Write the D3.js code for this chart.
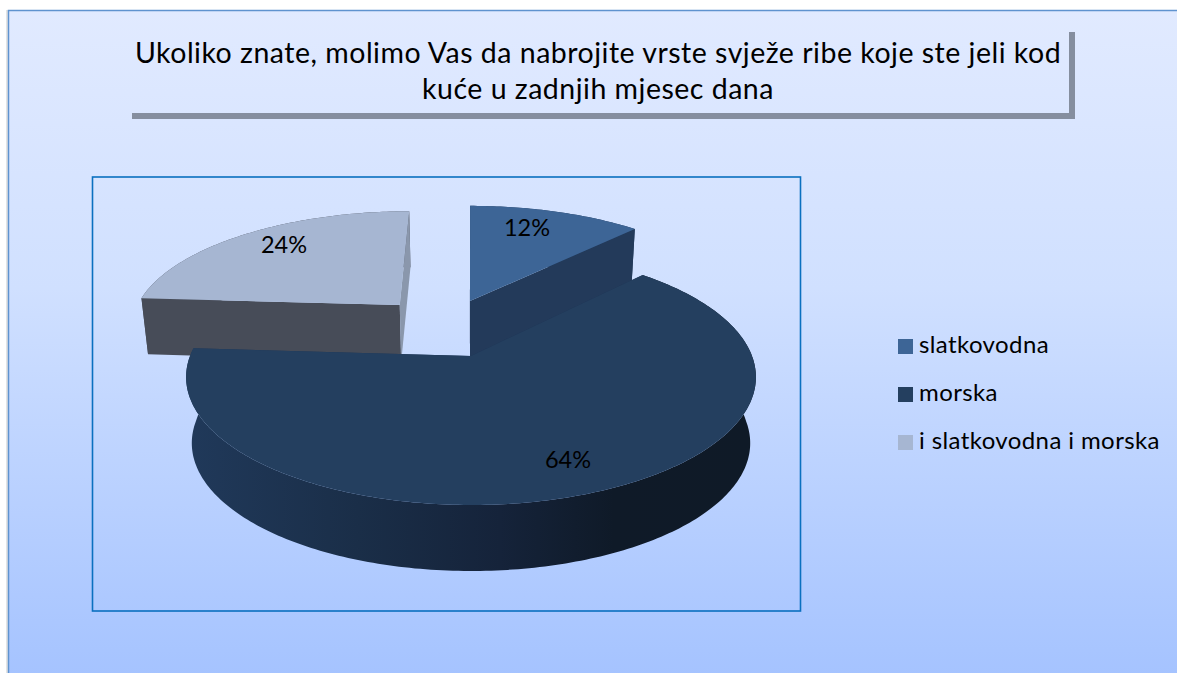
<!DOCTYPE html>
<html>
<head>
<meta charset="utf-8">
<script src="https://cdn.jsdelivr.net/npm/d3@7"></script>
<style>
  html, body { margin: 0; padding: 0; background: #fff; }
  text { font-family: Lato, "Open Sans", sans-serif; fill: #000; }
</style>
</head>
<body>
<div id="vis_pie"></div>
<script>
// Data
const categories = ["slatkovodna", "morska", "i slatkovodna i morska"];
const shares = [12, 64, 24];
const titleLines = [
    "Ukoliko znate, molimo Vas da nabrojite vrste svježe ribe koje ste jeli kod",
    "kuće u zadnjih mjesec dana"
];

(function() {
    const width = 1177
    const height = 673

    const topColor = d3.scaleOrdinal().domain(categories).range(["#3d6596", "#243f5f", "#a6b6d2"]);
    const cutColor = d3.scaleOrdinal().domain(categories).range(["#233a5a", "#1f3656", "#474c58"]);

    const svg = d3.select("#vis_pie")
        .append("svg")
        .attr("width", width)
        .attr("height", height)
        .style("display", "block")

    const defs = svg.append("defs");

    // panel background
    const bg = defs.append("linearGradient")
        .attr("id", "panelFill")
        .attr("x1", 0).attr("y1", 0).attr("x2", 0).attr("y2", 1);
    bg.append("stop").attr("offset", "0%").attr("stop-color", "#e1eaff");
    bg.append("stop").attr("offset", "40%").attr("stop-color", "#d0e0ff");
    bg.append("stop").attr("offset", "100%").attr("stop-color", "#a2c1ff");

    // dark rim of the big slice
    const rim = defs.append("linearGradient")
        .attr("id", "rimFill")
        .attr("gradientUnits", "userSpaceOnUse")
        .attr("x1", 188).attr("y1", 0).attr("x2", 755).attr("y2", 0);
    rim.append("stop").attr("offset", "0%").attr("stop-color", "#20395a");
    rim.append("stop").attr("offset", "30%").attr("stop-color", "#1a2e48");
    rim.append("stop").attr("offset", "55%").attr("stop-color", "#15233a");
    rim.append("stop").attr("offset", "75%").attr("stop-color", "#0f1a28");
    rim.append("stop").attr("offset", "100%").attr("stop-color", "#0f1a27");

    svg.append("rect")
        .attr("x", 6).attr("y", 10)
        .attr("width", 2).attr("height", height)
        .attr("fill", "#c8c8c8")
        .attr("opacity", 0.5);

    svg.append("rect")
        .attr("x", 8.5).attr("y", 10.5)
        .attr("width", width + 20).attr("height", height + 20)
        .attr("fill", "url(#panelFill)")
        .attr("stroke", "#5f93cf")
        .attr("stroke-width", 1.5);

    // title with its shadow bar
    svg.append("path")
        .attr("d", "M132,116H1072V32")
        .attr("fill", "none")
        .attr("stroke", "#858e9f")
        .attr("stroke-width", 6);

    svg.selectAll("text.title")
        .data(titleLines)
        .join("text")
        .attr("class", "title")
        .attr("x", 598)
        .attr("y", (d, i) => 63 + i * 36)
        .attr("text-anchor", "middle")
        .style("font-size", "28.5px")
        .style("letter-spacing", "0.5px")
        .text(d => d);

    // plot area frame
    svg.append("rect")
        .attr("x", 92.5).attr("y", 177)
        .attr("width", 708).attr("height", 434)
        .attr("fill", "none")
        .attr("stroke", "#0a70c0")
        .attr("stroke-width", 1.6);

    // Perspective of the pie: world X/Y on the disc to the screen
    const originX = 471, originY = 356
    const scaleX = 281, scaleY = 124.4, persp = 0.165
    const bottomShrink = 0.98
    const depth = d3.scaleLinear().domain([0, 0.5]).range([66, 56]).clamp(true);

    function project(X, Y, bottom) {
        const den = 1 + persp * Y;
        let x = originX + scaleX * X / den;
        let y = originY - scaleY * Y / den;
        if (bottom) {
            x = originX + (x - originX) * bottomShrink;
            y = y + depth(Y);
        }
        return [x, y];
    }

    // how far each slice is pulled out of the pie, and its radius factor
    const pull = {
        "slatkovodna": { x: -0.004, y: 0.477, r: 1.03 },
        "morska": { x: 0, y: 0, r: 1 },
        "i slatkovodna i morska": { x: -0.272, y: 0.44, r: 1 }
    };

    const pie = d3.pie().sort(null).value(d => d.share);
    const arcs = pie(categories.map((c, i) => ({ name: c, share: shares[i] })));

    const line = d3.line();

    function rimPoint(d, a, bottom) {
        const p = pull[d.data.name];
        return project(p.x + p.r * Math.sin(a), p.y + p.r * Math.cos(a), bottom);
    }

    function apex(d, bottom) {
        const p = pull[d.data.name];
        return project(p.x, p.y, bottom);
    }

    function arcAngles(d) {
        const n = Math.ceil((d.endAngle - d.startAngle) * 60);
        return d3.range(n + 1).map(i => d.startAngle + (d.endAngle - d.startAngle) * i / n);
    }

    // back slices first, the big one goes over them
    const drawOrder = [arcs[2], arcs[0], arcs[1]];

    drawOrder.forEach(function(d) {
        const g = svg.append("g");
        const angles = arcAngles(d);

        // outer wall
        const outer = angles.map(a => rimPoint(d, a)).concat(angles.slice().reverse().map(a => rimPoint(d, a, true)));
        g.append("path")
            .attr("d", line(outer) + "Z")
            .attr("fill", d.data.name === categories[1] ? "url(#rimFill)" : cutColor(d.data.name));

        // cut walls, the grey slice shows a lighter sliver on its end cut
        [d.startAngle, d.endAngle].forEach(function(a) {
            const sliver = d.data.name === categories[2] && a === d.endAngle;
            g.append("path")
                .attr("d", line([apex(d), rimPoint(d, a), rimPoint(d, a, true), apex(d, true)]) + "Z")
                .attr("fill", sliver ? "#8a97ac" : cutColor(d.data.name));
        });

        // top face
        const top = [apex(d)].concat(angles.map(a => rimPoint(d, a)));
        g.append("path")
            .attr("d", line(top) + "Z")
            .attr("fill", topColor(d.data.name));
    });

    // slice labels
    const labelPos = [[527, 236], [568, 468], [284, 253]];
    svg.selectAll("text.share")
        .data(arcs)
        .join("text")
        .attr("class", "share")
        .attr("x", (d, i) => labelPos[i][0])
        .attr("y", (d, i) => labelPos[i][1])
        .attr("text-anchor", "middle")
        .style("font-size", "23.5px")
        .text(d => d.data.share + "%");

    // legend
    const legendY = d3.scalePoint().domain(categories).range([339, 435]);
    const legend = svg.selectAll("g.legend")
        .data(categories)
        .join("g")
        .attr("class", "legend")
        .attr("transform", d => "translate(898," + legendY(d) + ")");

    legend.append("rect")
        .attr("width", 15)
        .attr("height", 15)
        .attr("fill", d => topColor(d));

    legend.append("text")
        .attr("x", 21)
        .attr("y", 14)
        .style("font-size", "24px")
        .style("letter-spacing", "0.4px")
        .text(d => d);
})();
</script>
</body>
</html>
